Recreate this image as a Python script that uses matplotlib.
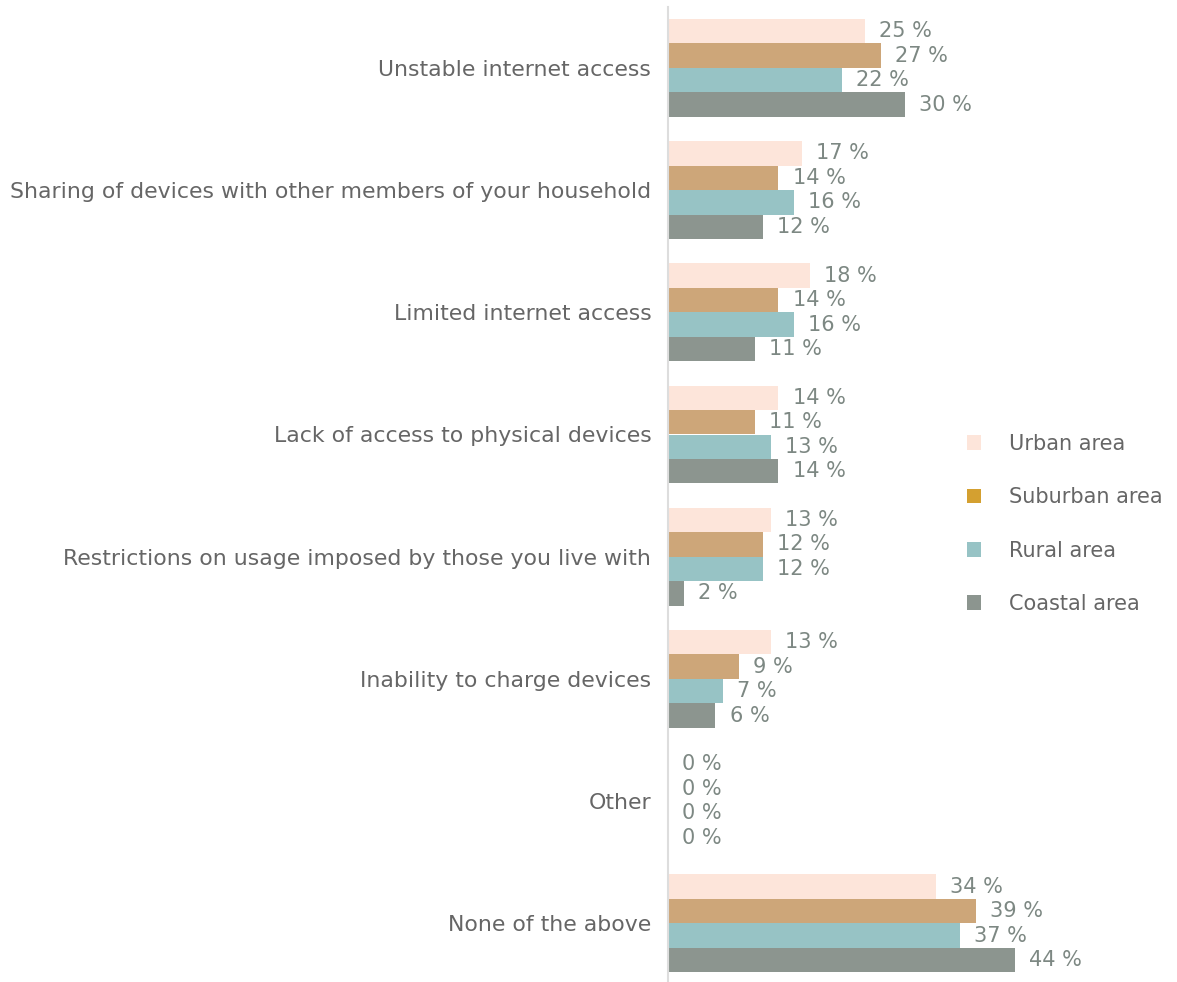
import matplotlib
matplotlib.use("Agg")
import numpy as np
from matplotlib import pyplot as plt
from matplotlib.patches import Patch

categories = [
    "Unstable internet access",
    "Sharing of devices with other members of your household",
    "Limited internet access",
    "Lack of access to physical devices",
    "Restrictions on usage imposed by those you live with",
    "Inability to charge devices",
    "Other",
    "None of the above",
]
series_names = ["Urban area", "Suburban area", "Rural area", "Coastal area"]
urban = [25, 17, 18, 14, 13, 13, 0, 34]
suburban = [27, 14, 14, 11, 12, 9, 0, 39]
rural = [22, 16, 16, 13, 12, 7, 0, 37]
coastal = [30, 12, 11, 14, 2, 6, 0, 44]

bar_colors = ["#fde5da", "#cda679", "#97c3c5", "#8c958f"]
legend_colors = ["#fde5da", "#d4a030", "#97c3c5", "#8c958f"]
label_color = "#7d8883"
text_color = "#666666"

plt.rcParams["font.family"] = ["DejaVu Sans"]

W, H = 1177, 982
fig = plt.figure(figsize=(W / 100, H / 100), dpi=100)
ax = fig.add_axes([668 / W, -2.4 / H, 390 / W, 977.6 / H])

series = [urban, suburban, rural, coastal]
y = np.arange(len(categories))
bh = 0.2
for i, (vals, col) in enumerate(zip(series, bar_colors)):
    ypos = y - 0.3 + i * bh
    ax.barh(ypos, vals, height=bh, color=col, edgecolor="none")
    for yy, v in zip(ypos, vals):
        ax.text(v + 1.8, yy, f"{v} %", va="center", ha="left",
                fontsize=15, color=label_color)

ax.set_xlim(0, 390 / 7.89)
ax.set_ylim(len(categories) - 0.5, -0.5)
ax.set_yticks(y)
ax.set_yticklabels(categories, fontsize=15.8, color=text_color)
ax.tick_params(axis="y", length=0, pad=12)
ax.set_xticks([])
for side in ["top", "right", "bottom"]:
    ax.spines[side].set_visible(False)
ax.spines["left"].set_color("#dddddd")
ax.spines["left"].set_linewidth(1.5)

handles = [Patch(facecolor=c, edgecolor="none") for c in legend_colors]
fig.legend(handles, series_names, loc="center left",
           bbox_to_anchor=(948 / W, 1 - 524 / H), frameon=False,
           fontsize=15, labelcolor=text_color, handlelength=0.7,
           handleheight=0.7, handletextpad=1.35, labelspacing=1.6)

fig.savefig("out.png", dpi=100)
